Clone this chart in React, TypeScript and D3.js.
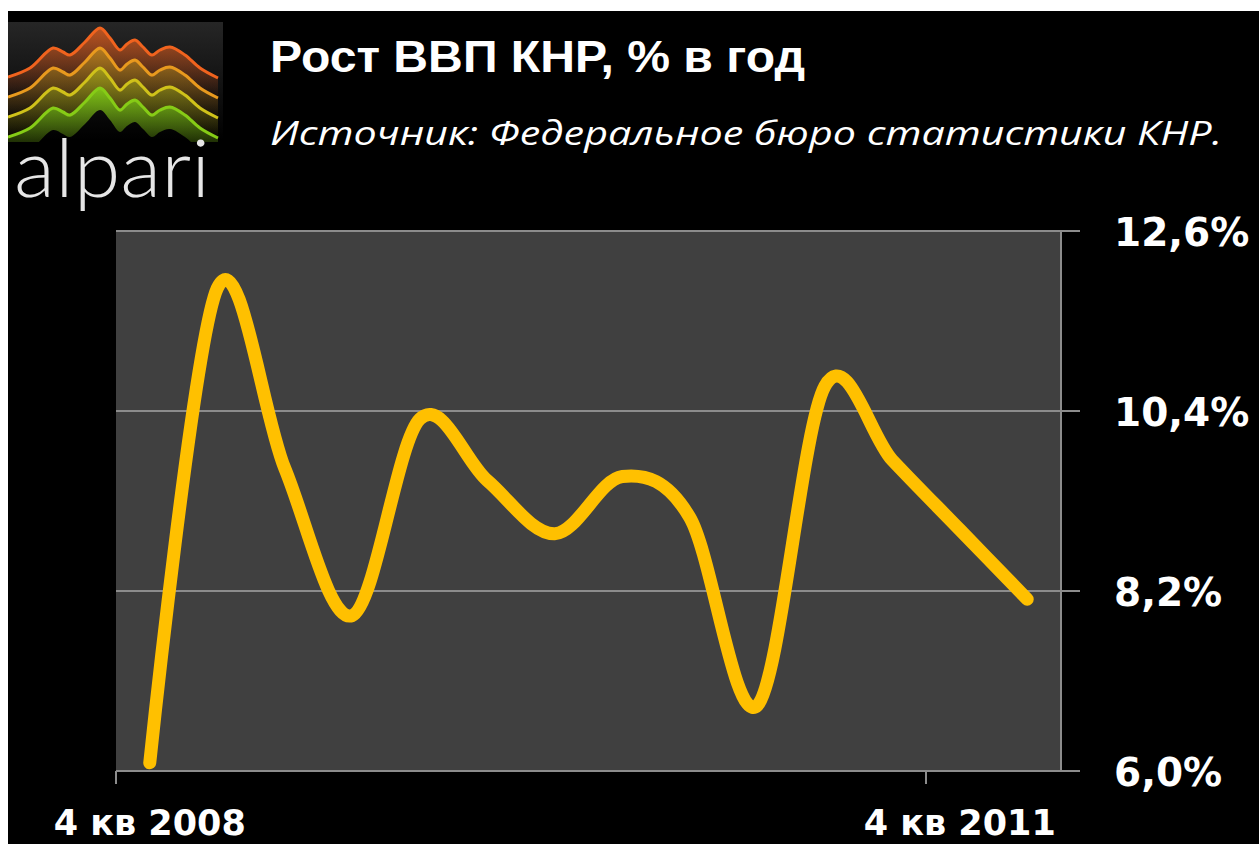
import * as d3 from 'd3';

// quarters shown on the category axis
const categories = [
  '4 кв 2008', '1 кв 2009', '2 кв 2009', '3 кв 2009', '4 кв 2009',
  '1 кв 2010', '2 кв 2010', '3 кв 2010', '4 кв 2010',
  '1 кв 2011', '2 кв 2011', '3 кв 2011', '4 кв 2011', '1 кв 2012',
];

// GDP growth, % per year
const gdpGrowth = [6.1, 11.9, 9.7, 7.9, 10.3, 9.55, 8.9, 9.6, 9.1, 6.8, 10.7, 9.8, 8.95, 8.1];

const yTicks = [6.0, 8.2, 10.4, 12.6];
const xTickLabels = ['4 кв 2008', '4 кв 2011'];

// logo ridge outline (relative to the logo box)
const ridge: [number, number][] = [
  [0, 55], [22, 46], [45, 26], [55, 30], [62, 33], [77, 20], [92, 6], [102, 16],
  [112, 28], [119, 22], [127, 18], [135, 25], [144, 33], [152, 28], [162, 25],
  [177, 33], [192, 46], [210, 56],
];
const ridgeColors = ['#f0631e', '#e89a1e', '#cfc21a', '#86cc16'];

const W = 1259;
const H = 844;

export default function App() {
  const margin = { left: 116, right: 1061, top: 231, bottom: 771 };

  const x = d3.scaleBand<string>().domain(categories).range([margin.left, margin.right]).padding(0);
  const y = d3.scaleLinear().domain([6.0, 12.6]).range([margin.bottom, margin.top]);
  const cx = (c: string) => (x(c) ?? 0) + x.bandwidth() / 2;

  const line = d3
    .line<number>()
    .x((_, i) => cx(categories[i]))
    .y((d) => y(d))
    .curve(d3.curveCatmullRom.alpha(0));

  const fmt = (v: number) => v.toFixed(1).replace('.', ',') + '%';

  // logo shapes
  const ridgeLine = d3
    .line<[number, number]>()
    .x((d) => d[0])
    .y((d) => d[1])
    .curve(d3.curveCatmullRom.alpha(0.5));
  const ridgeArea = d3
    .area<[number, number]>()
    .x((d) => d[0])
    .y0((d) => d[1] + 22)
    .y1((d) => d[1])
    .curve(d3.curveCatmullRom.alpha(0.5));

  const tickIdx = xTickLabels.map((l) => categories.indexOf(l));

  return (
    <svg
      width={W}
      height={H}
      style={{ position: 'absolute', left: 0, top: 0, display: 'block' }}
    >
      <defs>
        <linearGradient id="logoBg" x1="0" y1="0" x2="0" y2="1">
          <stop offset="0" stopColor="#262626" />
          <stop offset="1" stopColor="#000" />
        </linearGradient>
        {ridgeColors.map((c, i) => (
          <linearGradient key={i} id={`rg${i}`} x1="0" y1="0" x2="0" y2="1">
            <stop offset="0" stopColor={c} stopOpacity={i === 3 ? 0.95 : 0.75} />
            <stop offset="1" stopColor={c} stopOpacity={0} />
          </linearGradient>
        ))}
        <clipPath id="logoClip">
          <rect x={0} y={0} width={212} height={120} />
        </clipPath>
      </defs>

      <rect x={0} y={0} width={W} height={H} fill="#fff" />
      <rect x={8} y={11} width={W - 8} height={H - 11} fill="#000" />

      {/* logo */}
      <g transform="translate(8,22)">
        <rect x={0} y={0} width={215} height={118} fill="url(#logoBg)" />
        <g clipPath="url(#logoClip)">
          {ridgeColors.map((c, i) => (
            <g key={c} transform={`translate(0, ${i * 20})`}>
              <path d={ridgeArea(ridge) ?? ''} fill={`url(#rg${i})`} />
              <path d={ridgeLine(ridge) ?? ''} fill="none" stroke={c} strokeWidth={3} />
            </g>
          ))}
        </g>
      </g>
      <text
        x={14}
        y={197}
        fill="#e6e6e6"
        fontFamily="Lato, 'Open Sans', sans-serif"
        fontWeight={300}
        fontSize={80}
        textLength={196}
        lengthAdjust="spacingAndGlyphs"
      >
        alpari
      </text>

      {/* titles */}
      <text
        x={270}
        y={72}
        fill="#fff"
        fontFamily="'Liberation Sans', Arial, sans-serif"
        fontWeight="bold"
        fontSize={44}
        textLength={535}
        lengthAdjust="spacingAndGlyphs"
      >
        Рост ВВП КНР, % в год
      </text>
      <text
        x={270}
        y={145}
        fill="#fff"
        fontFamily="'Open Sans', sans-serif"
        fontStyle="italic"
        fontSize={32}
        textLength={952}
        lengthAdjust="spacingAndGlyphs"
      >
        Источник: Федеральное бюро статистики КНР.
      </text>

      {/* plot area */}
      <rect
        x={margin.left}
        y={margin.top}
        width={margin.right - margin.left}
        height={margin.bottom - margin.top}
        fill="#404040"
      />

      {/* gridlines with right-side ticks */}
      {yTicks.map((t) => (
        <line
          key={t}
          x1={margin.left}
          x2={margin.right + 19}
          y1={y(t)}
          y2={y(t)}
          stroke="#8c8c8c"
          strokeWidth={2}
        />
      ))}
      <line x1={margin.right} x2={margin.right} y1={margin.top} y2={margin.bottom} stroke="#8c8c8c" strokeWidth={2} />
      <line x1={margin.left} x2={margin.right} y1={margin.bottom} y2={margin.bottom} stroke="#8c8c8c" strokeWidth={2} />
      {tickIdx.map((i) => (
        <line
          key={i}
          x1={x(categories[i])}
          x2={x(categories[i])}
          y1={margin.bottom}
          y2={margin.bottom + 13}
          stroke="#8c8c8c"
          strokeWidth={2}
        />
      ))}

      {/* series */}
      <path
        d={line(gdpGrowth) ?? ''}
        fill="none"
        stroke="#ffc000"
        strokeWidth={13}
        strokeLinecap="round"
        strokeLinejoin="round"
      />

      {/* y labels */}
      {yTicks.map((t) => (
        <text
          key={t}
          x={1114}
          y={y(t) + 15}
          fill="#fff"
          fontFamily="'DejaVu Sans', Verdana, sans-serif"
          fontWeight="bold"
          fontSize={39}
        >
          {fmt(t)}
        </text>
      ))}

      {/* x labels */}
      {tickIdx.map((i) => (
        <text
          key={i}
          x={cx(categories[i])}
          y={835}
          textAnchor="middle"
          fill="#fff"
          fontFamily="'DejaVu Sans', Verdana, sans-serif"
          fontWeight="bold"
          fontSize={35}
        >
          {categories[i]}
        </text>
      ))}
    </svg>
  );
}
